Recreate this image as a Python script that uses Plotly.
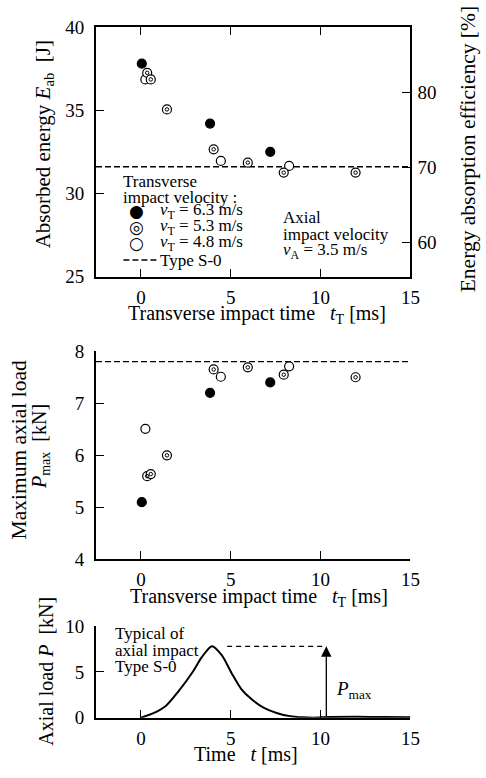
import plotly.graph_objects as go

# ---------------- data ----------------
t_63 = [0.05, 3.85, 7.2]
E_63 = [37.8, 34.2, 32.5]
P_63 = [5.1, 7.2, 7.4]

t_53 = [0.35, 0.55, 1.45, 4.05, 5.95, 7.95, 11.95]
E_53 = [37.25, 36.85, 35.05, 32.65, 31.85, 31.25, 31.25]
P_53 = [5.6, 5.64, 6.0, 7.65, 7.69, 7.55, 7.5]

t_48 = [0.25, 4.45, 8.25]
E_48 = [36.85, 31.95, 31.65]
P_48 = [6.51, 7.51, 7.71]

E_S0 = 31.6          # Type S-0 absorbed energy [J]
P_S0 = 7.8           # Type S-0 max axial load [kN]
E_input = 45.1       # impact energy giving the efficiency axis [J]

t_curve = [0, 0.7, 1.4, 2.1, 2.9, 3.4, 3.96, 4.5, 5.05, 5.6, 6.15, 6.85,
           7.6, 8.3, 9.0, 9.6, 10.5, 12.0, 13.5, 15.0]
P_curve = [0, 0.49, 1.31, 2.9, 5.05, 6.65, 7.82, 6.83, 4.87, 3.09, 2.03,
           1.07, 0.49, 0.17, 0.04, 0.0, 0.07, 0.09, 0.07, 0.05]
t_pmax_arrow = 10.32
t_pmax_dash_start = 4.8

x_range = [-2.5, 15]
x_ticks = [0, 5, 10, 15]
E_range = [25, 40]
E_ticks = [25, 30, 35, 40]
eff_ticks = [60, 70, 80]
P_range = [4, 8]
P_ticks = [4, 5, 6, 7, 8]
Pt_range = [0, 10]
Pt_ticks = [0, 5, 10]

# ---------------- layout helpers ----------------
W, H = 486, 778
FONT = "Liberation Serif, Times New Roman, Tinos, DejaVu Serif, serif"


def px(x):
    return x / W


def py(y):
    return 1 - y / H


X_DOM = [px(98), px(419)]
Y1_DOM = [py(274), py(17.5)]
Y3_DOM = [py(564.7), py(350.7)]
Y4_DOM = [py(727.3), py(633.3)]

fig = go.Figure()

marker_line = dict(color="black", width=1.2)
MS = 9


def add_points(xa, ya, t63, v63, t53, v53, t48, v48):
    fig.add_trace(go.Scatter(x=t63, y=v63, mode="markers", xaxis=xa, yaxis=ya,
                             marker=dict(symbol="circle", size=MS, color="black",
                                         line=marker_line), showlegend=False))
    fig.add_trace(go.Scatter(x=t48, y=v48, mode="markers", xaxis=xa, yaxis=ya,
                             marker=dict(symbol="circle", size=MS, color="white",
                                         line=marker_line), showlegend=False))
    fig.add_trace(go.Scatter(x=t53, y=v53, mode="markers", xaxis=xa, yaxis=ya,
                             marker=dict(symbol="circle", size=MS, color="white",
                                         line=marker_line), showlegend=False))
    fig.add_trace(go.Scatter(x=t53, y=v53, mode="markers", xaxis=xa, yaxis=ya,
                             marker=dict(symbol="circle-open", size=3.5, color="black",
                                         line=dict(color="black", width=1)),
                             showlegend=False))


# top panel dashed reference
fig.add_trace(go.Scatter(x=x_range, y=[E_S0, E_S0], mode="lines", xaxis="x", yaxis="y",
                         line=dict(color="black", width=1.4, dash="6px,3px"),
                         showlegend=False))
add_points("x", "y", t_63, E_63, t_53, E_53, t_48, E_48)
# invisible trace for right axis
fig.add_trace(go.Scatter(x=[x_range[0]], y=[E_range[0] / E_input * 100], mode="markers",
                         xaxis="x", yaxis="y2", marker=dict(opacity=0),
                         showlegend=False, hoverinfo="skip"))

# middle panel
fig.add_trace(go.Scatter(x=x_range, y=[P_S0, P_S0], mode="lines", xaxis="x2", yaxis="y3",
                         line=dict(color="black", width=1.4, dash="6px,3px"),
                         showlegend=False))
add_points("x2", "y3", t_63, P_63, t_53, P_53, t_48, P_48)

# bottom panel
fig.add_trace(go.Scatter(x=t_curve, y=P_curve, mode="lines", xaxis="x3", yaxis="y4",
                         line=dict(color="black", width=2, shape="spline", smoothing=0.8),
                         showlegend=False))
fig.add_trace(go.Scatter(x=[t_pmax_dash_start, t_pmax_arrow], y=[P_S0, P_S0], mode="lines",
                         xaxis="x3", yaxis="y4",
                         line=dict(color="black", width=1.2, dash="5px,4px"),
                         showlegend=False))

axis_common = dict(showgrid=False, zeroline=False, showline=True, linecolor="black",
                   linewidth=2, ticks="inside", ticklen=8, tickwidth=1.2,
                   tickcolor="black", tickfont=dict(family=FONT, size=19, color="black"))

fig.update_layout(
    width=W, height=H, margin=dict(l=0, r=0, t=0, b=0),
    paper_bgcolor="white", plot_bgcolor="white",
    font=dict(family=FONT, color="black"),
    showlegend=False,
    xaxis=dict(domain=X_DOM, range=x_range, tickvals=x_ticks, anchor="y",
               mirror="ticks", ticklabelstandoff=3, **axis_common),
    yaxis=dict(domain=Y1_DOM, range=E_range, tickvals=E_ticks, anchor="x",
               mirror=True, ticklabelstandoff=6, **axis_common),
    yaxis2=dict(overlaying="y", side="right", anchor="x",
                range=[E_range[0] / E_input * 100, E_range[1] / E_input * 100],
                tickvals=eff_ticks, ticklabelstandoff=6,
                **{**axis_common, "showline": False}),
    xaxis2=dict(domain=X_DOM, range=x_range, tickvals=x_ticks, anchor="y3",
                ticklabelstandoff=2, **axis_common),
    yaxis3=dict(domain=Y3_DOM, range=P_range, tickvals=P_ticks, anchor="x2",
                ticklabelstandoff=6, **axis_common),
    xaxis3=dict(domain=X_DOM, range=x_range, tickvals=x_ticks, anchor="y4",
                ticklabelstandoff=3, **axis_common),
    yaxis4=dict(domain=Y4_DOM, range=Pt_range, tickvals=Pt_ticks, anchor="x3",
                ticklabelstandoff=6, **axis_common),
)

ann = []
NB = "\u00a0"
TF = 20


def title_ann(text, x, y, angle=0, size=TF, xanchor="center", yanchor="middle", family=FONT):
    ann.append(dict(text=text, x=px(x), y=py(y), xref="paper", yref="paper",
                    showarrow=False, textangle=angle, xanchor=xanchor, yanchor=yanchor,
                    font=dict(family=family, size=size, color="black")))


# axis titles
title_ann("Absorbed energy <i>E</i><sub>ab</sub>" + NB * 2 + "[J]", 45, 138, -90, size=21)
title_ann("Energy absorption efficiency [%]", 478, 292, -90, size=21.5, yanchor="bottom")
title_ann("Transverse impact time" + NB * 3 + "<i>t</i><sub>T</sub> [ms]", 262, 313)
title_ann("Maximum axial load", 19, 452, -90, size=21.5)
title_ann("<i>P</i><sub>max</sub>" + NB * 2 + "[kN]", 42, 449, -90)
title_ann("Transverse impact time" + NB * 3 + "<i>t</i><sub>T</sub>" + NB + "[ms]", 264, 604)
title_ann("Axial load <i>P</i>" + NB * 2 + "[kN]", 47, 680, -90)
title_ann("Time" + NB * 3 + "<i>t</i> [ms]", 251, 765)

# legend (manual)
LF = 17
SYM = "DejaVu Sans"
title_ann("Transverse", 124, 176, size=LF, xanchor="left")
title_ann("impact velocity :", 124, 192.5, size=LF, xanchor="left")
title_ann("\u25CF", 139, 207, size=17, family=SYM)
title_ann("\u25CE", 139, 223, size=17, family=SYM)
title_ann("\u25CB", 139, 239.5, size=17, family=SYM)
title_ann("<i>v</i><sub>T</sub> = 6.3 m/s", 161, 207, size=LF, xanchor="left")
title_ann("<i>v</i><sub>T</sub> = 5.3 m/s", 161, 223, size=LF, xanchor="left")
title_ann("<i>v</i><sub>T</sub> = 4.8 m/s", 161, 239.5, size=LF, xanchor="left")
title_ann("Type S-0", 161, 257, size=LF, xanchor="left")

# axial impact velocity text
title_ann("Axial", 287, 213.5, size=LF, xanchor="left")
title_ann("impact velocity", 287, 230.5, size=LF, xanchor="left")
title_ann("<i>v</i><sub>A</sub> = 3.5 m/s", 287, 247.5, size=LF, xanchor="left")

# bottom panel texts
title_ann("Typical of", 115, 641, size=LF, xanchor="left")
title_ann("axial impact", 115, 658, size=LF, xanchor="left")
title_ann("Type S-0", 115, 675, size=LF, xanchor="left")
title_ann("<i>P</i><sub>max</sub>", 341, 699, size=19, xanchor="left")

# P_max arrow
ann.append(dict(x=t_pmax_arrow, y=P_S0, ax=t_pmax_arrow, ay=0, xref="x3", yref="y4",
                axref="x3", ayref="y4", showarrow=True, arrowhead=2, arrowsize=1.6,
                arrowwidth=1.3, arrowcolor="black", text=""))

fig.update_layout(annotations=ann)

# legend dashed sample
fig.add_shape(type="line", xref="paper", yref="paper", x0=px(126), x1=px(160),
              y0=py(257), y1=py(257), line=dict(color="black", width=1.4, dash="6px,3px"))

fig.write_html("out.html")
